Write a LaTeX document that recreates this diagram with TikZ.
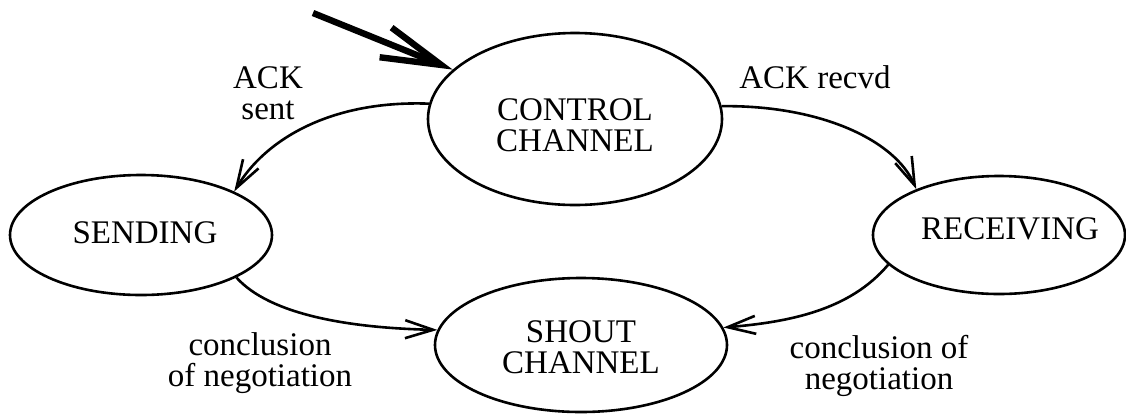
\documentclass[tikz,border=0pt]{standalone}
\usepackage{fontspec}
\setmainfont{Liberation Serif}
\usetikzlibrary{arrows.meta,shapes.geometric}
\tikzset{
  state/.style={draw, ellipse, line width=1.3pt, inner sep=0pt},
  txt/.style={align=center, inner sep=0pt, font=\fontsize{16.5}{15.5}\selectfont},
  trans/.style={line width=1.3pt, -{Straight Barb[length=14pt, width=9pt, line width=1.3pt]}},
  entry/.style={line width=3.2pt, -{Straight Barb[length=30pt, width=16pt, line width=3.2pt]}}
}
\begin{document}
\begin{tikzpicture}[x=0.5pt, y=-0.5pt]
  \useasboundingbox (0,0) rectangle (1126,414);

  % states
  \node[state, minimum width=147pt, minimum height=86pt] (ctrl) at (575,119) {};
  \node[state, minimum width=131pt, minimum height=60pt] (send) at (141,235) {};
  \node[state, minimum width=126pt, minimum height=59pt] (recv) at (999,235) {};
  \node[state, minimum width=146pt, minimum height=67pt] (shout) at (581,345) {};

  % state names
  \node[txt] (ctrltext) at (575,125) {CONTROL\\CHANNEL};
  \node[txt] (sendtext) at (145,233) {SENDING};
  \node[txt] (recvtext) at (1010,229) {RECEIVING};
  \node[txt] (shouttext) at (581,347) {SHOUT\\CHANNEL};

  % initial arrow
  \coordinate (start) at (313,13);
  \draw[entry] (start) -- (ctrl.158);

  % transitions
  \draw[trans] (ctrl.174) .. controls (330,100) and (265,140) .. (send.25);
  \draw[trans] (ctrl.5) .. controls (820,105) and (895,140) .. (recv.151);
  \draw[trans] (send.-24) .. controls (270,315) and (350,328) .. (shout.174);
  \draw[trans] (recv.195) .. controls (850,310) and (790,322) .. (shout.7);

  % transition labels
  \node[txt] (l1) at (268,93) {ACK\\sent};
  \node[txt] (l2) at (815,77) {ACK recvd};
  \node[txt] (l3) at (260,363) {conclusion\\of negotiation};
  \node[txt] (l4) at (879,366) {conclusion of\\negotiation};
\end{tikzpicture}
\end{document}
